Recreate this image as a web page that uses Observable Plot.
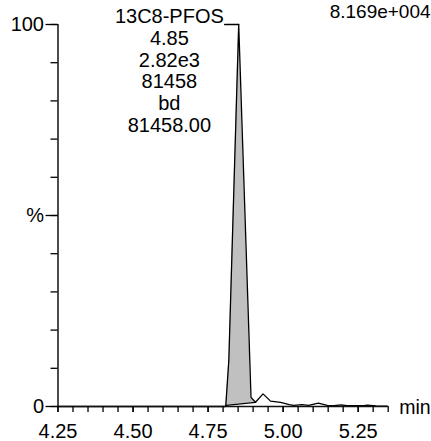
<!DOCTYPE html>
<html><head><meta charset="utf-8">
<script src="https://cdn.jsdelivr.net/npm/d3@7"></script>
<script src="https://cdn.jsdelivr.net/npm/@observablehq/plot@0.6"></script>
<style>html,body{margin:0;padding:0;background:#fff;overflow:hidden} svg{display:block}</style>
</head><body><div id="chart"></div>
<script>
// Chromatogram trace (retention time in min, relative intensity in %)
const time      = [4.250, 4.808, 4.809, 4.819, 4.852, 4.889, 4.893, 4.908, 4.933, 4.958, 4.991, 5.002, 5.020, 5.035, 5.063, 5.085, 5.117, 5.147, 5.169, 5.193, 5.213, 5.269, 5.280, 5.310, 5.347];
const intensity = [0,     0,     0.3,   12,    100,   12,    2.4,   1.1,   3.3,   1.4,   1.1,   0.9,   0.5,   0.3,   0.5,   0.3,   0.9,   0.3,   0.2,   0.4,   0.2,   0.2,   0.35,  0.15,  0.1];
// Integrated peak: start/end times and baseline levels
const peakStart = 4.809, peakEnd = 4.908;
const baselineStart = 0.3, baselineEnd = 1.1;
const apexTime = 4.852;
const leaderStart = 4.805;
const peakLabel = ["13C8-PFOS", "4.85", "2.82e3", "81458", "bd", "81458.00"];
const peakLabelTime = 4.621;
const maxIntensityLabel = "8.169e+004";
const maxLabelTime = 5.155;
const xUnit = "min";
const xMajorTicks = [4.25, 4.50, 4.75, 5.00, 5.25];
const xMinorTicks = [4.25,4.30,4.35,4.40,4.45,4.50,4.55,4.60,4.65,4.70,4.75,4.80,4.85,4.90,4.95,5.00,5.05,5.10,5.15,5.20,5.25,5.30,5.35];
const yTicks = [0,10,20,30,40,50,60,70,80,90,100];
const yLabelTicks = [0, 50, 100];
const yLabelText = ["0", "%", "100"];

const trace = time.map((t, i) => ({t, v: intensity[i]}));
const base = t => baselineStart + (baselineEnd - baselineStart) * (t - peakStart) / (peakEnd - peakStart);
const peak = trace.filter(d => d.t >= peakStart && d.t <= peakEnd).map(d => ({t: d.t, v: d.v, b: base(d.t)}));
const baseLine = [{t: peakStart, v: baselineStart}, {t: peakEnd, v: baselineEnd}];

const font = "'Liberation Sans', Arial, Helvetica, sans-serif";
const fs = 20;

const chart = Plot.plot({
  width: 431, height: 441,
  marginLeft: 57.5, marginRight: 43.3, marginTop: 24, marginBottom: 35,
  x: {domain: [4.25, 5.35]},
  y: {domain: [0, 100]},
  style: {fontFamily: font, fontSize: fs + "px", color: "#000", background: "#fff", overflow: "hidden"},
  marks: [
    Plot.areaY(peak, {x: "t", y1: "b", y2: "v", fill: "#c0c0c0", curve: "linear"}),
    Plot.line(baseLine, {x: "t", y: "v", stroke: "#000", strokeWidth: 1.3}),
    Plot.line(trace, {x: "t", y: "v", stroke: "#000", strokeWidth: 1.3}),
    // axes lines
    Plot.ruleY([0], {x1: 4.25, x2: 5.35, stroke: "#111", strokeWidth: 1.5}),
    Plot.ruleX([4.25], {y1: 0, y2: 100, stroke: "#111", strokeWidth: 1.5}),
    Plot.axisX({ticks: xMinorTicks, tickSize: 6, tickFormat: () => "", label: null, strokeWidth: 1.3}),
    Plot.axisX({ticks: xMajorTicks, tickSize: 6, tickPadding: 11, tickFormat: d => d.toFixed(2), label: null, fontSize: fs, strokeWidth: 1.3}),
    Plot.axisY({ticks: yTicks, tickSize: 7, tickFormat: () => "", label: null, strokeWidth: 1.3}),
    Plot.axisY({ticks: yLabelTicks, tickSize: 12, tickPadding: 2, tickFormat: d => yLabelText[yLabelTicks.indexOf(d)], label: null, fontSize: fs, strokeWidth: 1.3}),
    // x unit
    Plot.text([xUnit], {x: () => 5.35, y: () => 0, dx: 11, dy: 1, textAnchor: "start", fontSize: 19.5, fill: "#000"}),
    // peak annotation
    Plot.text([peakLabel.join("\n")], {x: () => peakLabelTime, y: () => 100, dy: -16.7, lineAnchor: "top", lineHeight: 1.085, textAnchor: "middle", fontSize: fs, fill: "#000"}),
    Plot.line([{t: leaderStart, v: 100}, {t: apexTime, v: 100}], {x: "t", y: "v", stroke: "#000", strokeWidth: 1.3}),
    // max intensity
    Plot.text([maxIntensityLabel], {x: () => maxLabelTime, y: () => 100, dy: -12.3, textAnchor: "start", lineAnchor: "middle", fontSize: 19, fill: "#000"})
  ]
});
document.getElementById("chart").appendChild(chart);
</script>
</body></html>
